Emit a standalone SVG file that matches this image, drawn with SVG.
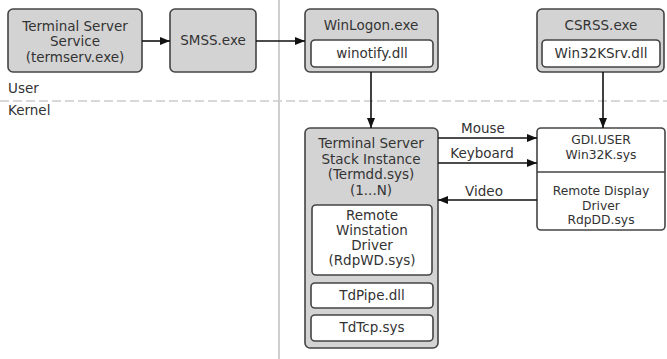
<svg xmlns="http://www.w3.org/2000/svg" width="667" height="359" viewBox="0 0 667 359">
<defs>
<marker id="ah" markerWidth="10" markerHeight="8" refX="10" refY="4" orient="auto" markerUnits="userSpaceOnUse">
<path d="M0,0 L10,4 L0,8 Z" fill="#111"/>
</marker>
<style>
.t{font-family:"DejaVu Sans",Verdana,sans-serif;font-size:13.5px;fill:#333;text-anchor:middle}
.s{font-size:12.3px}
.g{fill:#d3d3d3;stroke:#444;stroke-width:1.6}
.w{fill:#fff;stroke:#444;stroke-width:1.6}
.c{stroke:#111;stroke-width:1.6;fill:none;marker-end:url(#ah)}
</style>
</defs>
<rect width="667" height="359" fill="#fff"/>
<line x1="279" y1="0" x2="279" y2="359" stroke="#cfcfcf" stroke-width="2"/>
<line x1="0" y1="101" x2="667" y2="101" stroke="#cccccc" stroke-width="1.5" stroke-dasharray="9,4"/>
<text class="t" x="8" y="93" style="text-anchor:start">User</text>
<text class="t" x="8" y="115" style="text-anchor:start">Kernel</text>

<g id="termserv">
<rect class="g" x="8" y="9" width="134" height="63" rx="5"/>
<text class="t" x="75" y="31">Terminal Server</text>
<text class="t" x="75" y="46">Service</text>
<text class="t" x="75" y="62">(termserv.exe)</text>
</g>
<g id="smss">
<rect class="g" x="170" y="9" width="86" height="63" rx="5"/>
<text class="t" x="213" y="45">SMSS.exe</text>
</g>
<g id="winlogon">
<rect class="g" x="305" y="9" width="133" height="63" rx="5"/>
<text class="t" x="371" y="30">WinLogon.exe</text>
<rect class="w" x="311" y="40" width="122" height="27" rx="4"/>
<text class="t" x="372" y="58">winotify.dll</text>
</g>
<g id="csrss">
<rect class="g" x="537" y="9" width="127" height="63" rx="5"/>
<text class="t" x="601" y="30">CSRSS.exe</text>
<rect class="w" x="542" y="40" width="118" height="27" rx="4"/>
<text class="t" x="601" y="58">Win32KSrv.dll</text>
</g>
<g id="stack">
<rect class="g" x="305" y="128" width="133" height="220" rx="5"/>
<text class="t" x="371" y="148">Terminal Server</text>
<text class="t" x="371" y="164">Stack Instance</text>
<text class="t" x="371" y="179">(Termdd.sys)</text>
<text class="t" x="371" y="195">(1...N)</text>
</g>
<g id="rdpwd">
<rect class="w" x="312" y="205" width="120" height="70" rx="4"/>
<text class="t" x="372" y="220">Remote</text>
<text class="t" x="372" y="235">Winstation</text>
<text class="t" x="372" y="250">Driver</text>
<text class="t" x="372" y="265">(RdpWD.sys)</text>
</g>
<g id="tdpipe">
<rect class="w" x="311" y="283" width="122" height="25" rx="4"/>
<text class="t" x="372" y="300">TdPipe.dll</text>
</g>
<g id="tdtcp">
<rect class="w" x="311" y="315" width="122" height="26" rx="4"/>
<text class="t" x="372" y="332">TdTcp.sys</text>
</g>
<g id="gdi">
<rect class="w" x="537" y="128" width="128" height="102" rx="4"/>
<line x1="537" y1="172" x2="665" y2="172" stroke="#444" stroke-width="1.4"/>
<text class="t s" x="601" y="144">GDI.USER</text>
<text class="t s" x="601" y="158.5">Win32K.sys</text>
<text class="t s" x="601" y="195">Remote Display</text>
<text class="t s" x="601" y="209.5">Driver</text>
<text class="t s" x="601" y="224">RdpDD.sys</text>
</g>
<g id="connectors">
<line class="c" x1="142" y1="41" x2="170" y2="41"/>
<line class="c" x1="256" y1="41" x2="305" y2="41"/>
<line class="c" x1="371" y1="72" x2="371" y2="128"/>
<line class="c" x1="603" y1="72" x2="603" y2="128"/>
<line class="c" x1="438" y1="138" x2="537" y2="138"/>
<line class="c" x1="438" y1="163" x2="537" y2="163"/>
<line class="c" x1="537" y1="200" x2="438" y2="200"/>
<text class="t" x="483" y="133">Mouse</text>
<text class="t" x="482" y="158">Keyboard</text>
<text class="t" x="484" y="196">Video</text>
</g>
</svg>
